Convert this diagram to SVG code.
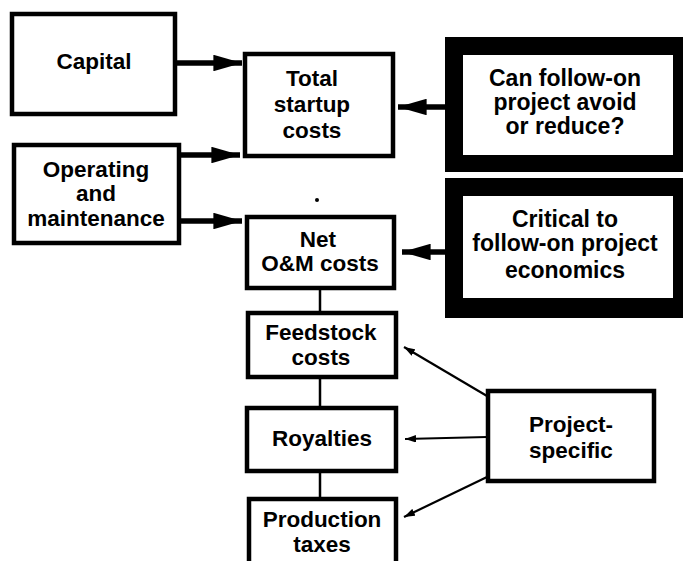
<svg xmlns="http://www.w3.org/2000/svg" width="683" height="561" viewBox="0 0 683 561">
<defs>
<style>
.box{fill:#fff;stroke:#000;stroke-width:4.5}
.dark{fill:#000}
.inner{fill:#fff}
text{font-family:"Liberation Sans",Arial,Helvetica,sans-serif;font-weight:bold;font-size:22.5px;fill:#000;text-anchor:middle}
.big{font-size:23px}
.thick{stroke:#000;stroke-width:5.5;fill:none}
.thin{stroke:#000;stroke-width:2.2;fill:none}
.link{stroke:#000;stroke-width:2.5;fill:none}
</style>
<marker id="hb" viewBox="0 0 10 10" refX="10" refY="5" markerWidth="5.2" markerHeight="3" markerUnits="strokeWidth" orient="auto" preserveAspectRatio="none">
<path d="M0,0 L10,5 L0,10 Z" fill="#000"/>
</marker>
<marker id="hs" viewBox="0 0 10 10" refX="10" refY="5" markerWidth="5" markerHeight="3.4" markerUnits="strokeWidth" orient="auto" preserveAspectRatio="none">
<path d="M0,0 L10,5 L0,10 Z" fill="#000"/>
</marker>
</defs>

<g id="connectors">
<line class="thick" x1="177" y1="63" x2="242" y2="63" marker-end="url(#hb)"/>
<line class="thick" x1="180" y1="155" x2="240" y2="155" marker-end="url(#hb)"/>
<line class="thick" x1="180" y1="221" x2="242" y2="221" marker-end="url(#hb)"/>
<line class="thick" x1="447" y1="107" x2="398" y2="107" marker-end="url(#hb)"/>
<line class="thick" x1="447" y1="252" x2="402" y2="252" marker-end="url(#hb)"/>
<line class="link" x1="320" y1="290" x2="320" y2="312"/>
<line class="link" x1="320" y1="378" x2="320" y2="407"/>
<line class="link" x1="320" y1="472" x2="320" y2="498"/>
<line class="thin" x1="487" y1="396" x2="404" y2="347" marker-end="url(#hs)"/>
<line class="thin" x1="487" y1="437" x2="405" y2="439" marker-end="url(#hs)"/>
<line class="thin" x1="487" y1="477" x2="404" y2="517" marker-end="url(#hs)"/>
<circle cx="317" cy="200" r="2" fill="#000"/>
</g>

<g id="capital">
<rect class="box" x="12" y="14" width="163" height="100"/>
<text x="94" y="69">Capital</text>
</g>

<g id="om">
<rect class="box" x="14" y="145" width="165" height="98"/>
<text x="96" y="177">Operating</text>
<text x="96" y="201">and</text>
<text x="96" y="226">maintenance</text>
</g>

<g id="total-startup">
<rect class="box" x="245" y="54" width="148" height="102"/>
<text x="312" y="86">Total</text>
<text x="312" y="112">startup</text>
<text x="312" y="138">costs</text>
</g>

<g id="net-om">
<rect class="box" x="247" y="217" width="147" height="71"/>
<text x="318" y="247">Net</text>
<text x="320" y="271">O&amp;M costs</text>
</g>

<g id="can-follow-on">
<rect class="dark" x="445" y="37" width="240" height="135"/>
<rect class="inner" x="463" y="55" width="210" height="100"/>
<text class="big" x="565" y="86">Can follow-on</text>
<text class="big" x="565" y="110">project avoid</text>
<text class="big" x="565" y="134">or reduce?</text>
</g>

<g id="critical">
<rect class="dark" x="445" y="178" width="240" height="140"/>
<rect class="inner" x="463" y="196" width="210" height="102"/>
<text class="big" x="565" y="227">Critical to</text>
<text class="big" x="565" y="251">follow-on project</text>
<text class="big" x="565" y="278">economics</text>
</g>

<g id="feedstock">
<rect class="box" x="248" y="313" width="148" height="64"/>
<text x="321" y="340">Feedstock</text>
<text x="321" y="365">costs</text>
</g>

<g id="royalties">
<rect class="box" x="247" y="408" width="149" height="63"/>
<text x="322" y="446">Royalties</text>
</g>

<g id="production-taxes">
<rect class="box" x="249" y="499" width="147" height="70"/>
<text x="322" y="527">Production</text>
<text x="322" y="552">taxes</text>
</g>

<g id="project-specific">
<rect class="box" x="488" y="391" width="166" height="90"/>
<text x="571" y="432">Project-</text>
<text x="571" y="458">specific</text>
</g>
</svg>
